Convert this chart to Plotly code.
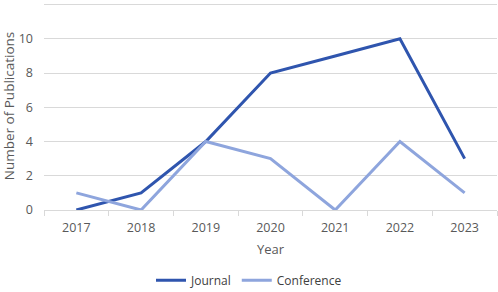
import plotly.graph_objects as go

years = ["2017", "2018", "2019", "2020", "2021", "2022", "2023"]
journal = [0, 1, 4, 8, 9, 10, 3]
conference = [1, 0, 4, 3, 0, 4, 1]
y_ticks = [0, 2, 4, 6, 8, 10, 12]

fig = go.Figure()
fig.add_trace(go.Scatter(x=years, y=journal, mode="lines", name="Journal",
                         line=dict(color="#2F55AE", width=3)))
fig.add_trace(go.Scatter(x=years, y=conference, mode="lines", name="Conference",
                         line=dict(color="#8EA5DD", width=3)))

font = "Open Sans, Liberation Sans, sans-serif"
fig.update_layout(
    width=498, height=292,
    margin=dict(l=44, r=1, t=2, b=82, autoexpand=False),
    plot_bgcolor="white", paper_bgcolor="white",
    font=dict(family=font, size=12, color="#595959"),
    showlegend=True,
    legend=dict(orientation="h", xref="container", x=0.5, xanchor="center",
                yref="container", y=0.04, yanchor="middle",
                font=dict(size=12, color="#404040"), itemwidth=30),
    xaxis=dict(type="category", range=[-0.5, 6.5], tickson="boundaries",
               ticks="outside", ticklen=5, tickcolor="#D9D9D9",
               showline=True, linecolor="#D9D9D9", linewidth=1,
               showgrid=False, tickfont=dict(size=12.5, color="#595959"),
               ticklabelstandoff=6, automargin=False,
               title=dict(text="Year", font=dict(size=13, color="#595959"), standoff=9)),
    yaxis=dict(range=[0, 12.15], tickmode="array", tickvals=y_ticks, showgrid=True, gridcolor="#D9D9D9",
               zeroline=False, showline=False, ticks="", ticklen=0,
               ticklabelstandoff=10, automargin=False,
               tickfont=dict(size=12.5, color="#595959"),
               title=dict(text="Number of Publications", font=dict(size=13.5, color="#595959"), standoff=8)),
)
fig.write_html("out.html", config={"displayModeBar": False},
               post_script="document.body.style.margin='0';")
